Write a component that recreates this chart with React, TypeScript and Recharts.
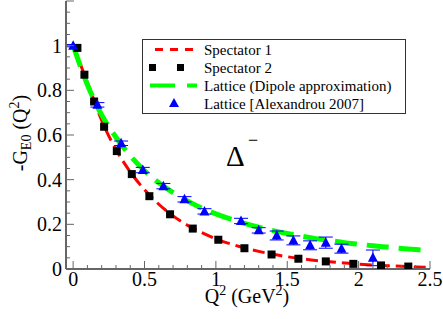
import { ComposedChart, Line, Scatter, XAxis, YAxis, ErrorBar } from 'recharts';

// curves sampled every 0.1 GeV^2
const curveQ = [0, 0.1, 0.2, 0.3, 0.4, 0.5, 0.6, 0.7, 0.8, 0.9, 1.0, 1.1, 1.2, 1.3, 1.4, 1.5, 1.6, 1.7, 1.8, 1.9, 2.0, 2.1, 2.2, 2.3, 2.4, 2.5];
const spectator1G = [1.0, 0.835, 0.665, 0.535, 0.435, 0.355, 0.29, 0.238, 0.196, 0.163, 0.135, 0.113, 0.094, 0.079, 0.066, 0.055, 0.046, 0.038, 0.032, 0.027, 0.022, 0.018, 0.015, 0.012, 0.009, 0.007];
const dipoleG = [1.0, 0.825, 0.69, 0.59, 0.507, 0.44, 0.386, 0.342, 0.305, 0.273, 0.247, 0.224, 0.204, 0.187, 0.172, 0.159, 0.147, 0.136, 0.127, 0.118, 0.111, 0.104, 0.098, 0.092, 0.087, 0.082];

const spec2Q = [0.03, 0.079, 0.147, 0.217, 0.306, 0.411, 0.534, 0.679, 0.838, 1.017, 1.2, 1.39, 1.578, 1.77, 1.963, 2.157, 2.348];
const spec2G = [0.99, 0.87, 0.75, 0.637, 0.528, 0.425, 0.326, 0.245, 0.181, 0.131, 0.093, 0.065, 0.046, 0.034, 0.023, 0.016, 0.011];

const latQ = [0, 0.17, 0.336, 0.488, 0.632, 0.78, 0.92, 1.176, 1.3, 1.426, 1.543, 1.66, 1.77, 1.88, 2.1];
const latG = [1.0, 0.735, 0.563, 0.443, 0.371, 0.312, 0.258, 0.215, 0.173, 0.15, 0.128, 0.106, 0.118, 0.091, 0.05];
const latErr = [0.005, 0.01, 0.01, 0.012, 0.012, 0.012, 0.012, 0.012, 0.012, 0.02, 0.02, 0.02, 0.025, 0.02, 0.035];

const xTicks = [0, 0.1, 0.2, 0.3, 0.4, 0.5, 0.6, 0.7, 0.8, 0.9, 1.0, 1.1, 1.2, 1.3, 1.4, 1.5, 1.6, 1.7, 1.8, 1.9, 2.0, 2.1, 2.2, 2.3, 2.4, 2.5];
const xMajor = [0, 0.5, 1, 1.5, 2, 2.5];
const xLabels = ['0', '0.5', '1', '1.5', '2', '2.5'];
const yTicks = [0, 0.05, 0.1, 0.15, 0.2, 0.25, 0.3, 0.35, 0.4, 0.45, 0.5, 0.55, 0.6, 0.65, 0.7, 0.75, 0.8, 0.85, 0.9, 0.95, 1.0, 1.05, 1.1, 1.15, 1.2];
const yMajor = [0, 0.2, 0.4, 0.6, 0.8, 1.0, 1.2];
const yLabels = ['0', '0.2', '0.4', '0.6', '0.8', '1', ''];

const spectator1 = curveQ.map((q, i) => ({ q, g: spectator1G[i] }));
const dipole = curveQ.map((q, i) => ({ q, g: dipoleG[i] }));
const spectator2 = spec2Q.map((q, i) => ({ q, g: spec2G[i] }));
const lattice = latQ.map((q, i) => ({ q, g: latG[i], err: latErr[i] }));

const AX = '#666';
const SERIF = "'Liberation Serif', 'Times New Roman', 'DejaVu Serif', serif";
const txt = (size: number) => ({ fontFamily: SERIF, fontSize: size, fill: '#000' });

const findMajor = (arr: number[], v: number) => arr.findIndex(m => Math.abs(m - v) < 1e-6);

function XTick({ x, y, payload, top }: any) {
  const i = findMajor(xMajor, payload.value);
  const len = i >= 0 ? 8 : 4;
  return (
    <g>
      <line x1={x} x2={x} y1={y} y2={top ? y + len : y - len} stroke={AX} strokeWidth={1} />
      {!top && i >= 0 && (
        <text x={x} y={y + 17} textAnchor="middle" style={txt(20)}>{xLabels[i]}</text>
      )}
    </g>
  );
}

function YTick({ x, y, payload, right }: any) {
  const i = findMajor(yMajor, payload.value);
  const len = i >= 0 ? 8 : 4;
  return (
    <g>
      <line x1={x} x2={right ? x - len : x + len} y1={y} y2={y} stroke={AX} strokeWidth={1} />
      {!right && i >= 0 && (
        <text x={x - 4} y={y + 7} textAnchor="end" style={txt(20)}>{yLabels[i]}</text>
      )}
    </g>
  );
}

const Square = ({ cx, cy }: any) => <rect x={cx - 4} y={cy - 4} width={8} height={8} fill="#000" />;
const Tri = ({ cx, cy }: any) => (
  <polygon points={`${cx},${cy - 5.5} ${cx + 5},${cy + 4} ${cx - 5},${cy + 4}`} fill="#0000ff" />
);

export default function App() {
  const axisLine = { stroke: AX, strokeWidth: 2 };
  return (
    <div style={{ position: 'absolute', left: 0, top: 0, width: 443, height: 319, background: '#fff', fontFamily: SERIF }}>
      <ComposedChart width={443} height={319} margin={{ top: 1, right: 13, bottom: 0, left: 0 }}>
        <XAxis dataKey="q" type="number" domain={[-0.05, 2.5]} ticks={xTicks} interval={0}
          allowDataOverflow height={50} tickSize={0} tickMargin={0} axisLine={axisLine}
          tick={<XTick />} />
        <XAxis xAxisId="top" orientation="top" dataKey="q" type="number" domain={[-0.05, 2.5]}
          ticks={xTicks} interval={0} allowDataOverflow height={0} tickSize={0} tickMargin={0}
          axisLine={axisLine} tick={<XTick top />} />
        <YAxis dataKey="g" type="number" domain={[0, 1.2]} ticks={yTicks} interval={0}
          allowDataOverflow width={66} tickSize={0} tickMargin={0} axisLine={axisLine}
          tick={<YTick />} />
        <YAxis yAxisId="right" orientation="right" dataKey="g" type="number" domain={[0, 1.2]}
          ticks={yTicks} interval={0} allowDataOverflow width={0} tickSize={0} tickMargin={0}
          axisLine={axisLine} tick={<YTick right />} />
        <Line data={spectator1} dataKey="g" type="monotone" stroke="#ff0000" strokeWidth={3}
          strokeDasharray="12 6" dot={false} isAnimationActive={false} />
        <Scatter data={spectator2} dataKey="g" shape={<Square />} isAnimationActive={false} />
        <Line data={dipole} dataKey="g" type="monotone" stroke="#00ff00" strokeWidth={5}
          strokeDasharray="22 10" dot={false} isAnimationActive={false} />
        <Scatter data={lattice} dataKey="g" shape={<Tri />} isAnimationActive={false}>
          <ErrorBar dataKey="err" direction="y" width={7} stroke="#0000ff" strokeWidth={1} />
        </Scatter>
      </ComposedChart>

      <svg width={443} height={319} style={{ position: 'absolute', left: 0, top: 0, pointerEvents: 'none' }}>
        {/* legend */}
        <rect x={142.5} y={39.5} width={263} height={74} fill="#fff" stroke="#333" strokeWidth={1} />
        <line x1={155} x2={197} y1={49.5} y2={49.5} stroke="#ff0000" strokeWidth={3} strokeDasharray="8 7" />
        <rect x={149} y={64} width={7} height={7} fill="#000" />
        <rect x={177} y={64} width={7} height={7} fill="#000" />
        <line x1={150} x2={197} y1={85.5} y2={85.5} stroke="#00ff00" strokeWidth={4} strokeDasharray="25 12" />
        <polygon points="174,98 179,107 169,107" fill="#0000ff" />
        <g>
          <text x={204} y={54.5} style={txt(15)}>Spectator 1</text>
          <text x={204} y={72.5} style={txt(15)}>Spectator 2</text>
          <text x={204} y={90.5} style={txt(15)}>Lattice (Dipole approximation)</text>
          <text x={204} y={108.5} style={txt(15)}>Lattice [Alexandrou 2007]</text>
        </g>

        {/* Delta minus */}
        <text x={226} y={166} style={txt(29)}>Δ</text>
        <text x={248} y={146} style={txt(18)}>−</text>

        {/* axis titles */}
        <text x={247} y={303} textAnchor="middle" style={txt(20)}>
          Q<tspan fontSize={14} dy={-8}>2</tspan><tspan dy={8}> (GeV</tspan><tspan fontSize={14} dy={-8}>2</tspan><tspan dy={8}>)</tspan>
        </text>
        <text x={27} y={133} transform="rotate(-90 27 133)" textAnchor="middle" style={txt(20)}>
          -G<tspan fontSize={14} dy={4}>E0</tspan><tspan dy={-4}> (Q</tspan><tspan fontSize={14} dy={-8}>2</tspan><tspan dy={8}>)</tspan>
        </text>
      </svg>
    </div>
  );
}
